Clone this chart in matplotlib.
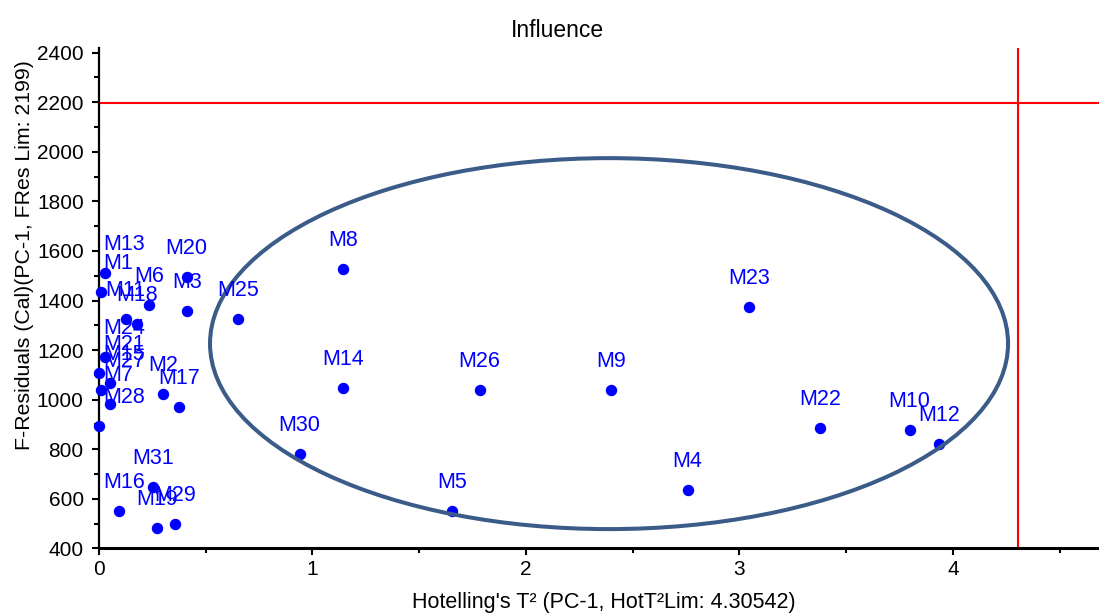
import matplotlib
matplotlib.use("Agg")
import matplotlib.pyplot as plt
from matplotlib.patches import Ellipse
from matplotlib.ticker import MultipleLocator

plt.rcParams['font.family'] = ['Liberation Sans', 'DejaVu Sans']

# sample names, Hotelling T2 and F-residuals
names = ['M13', 'M1', 'M11', 'M18', 'M6', 'M3', 'M20', 'M25',
         'M24', 'M21', 'M15', 'M27', 'M7', 'M28', 'M2', 'M17',
         'M16', 'M31', 'M19', 'M29',
         'M8', 'M14', 'M26', 'M30', 'M5', 'M23', 'M9', 'M22', 'M10', 'M12', 'M4']
hot_t2 = [0.028, 0.009, 0.125, 0.179, 0.236, 0.411, 0.411, 0.652,
          0.028, 0.0, 0.052, 0.009, 0.052, 0.0, 0.301, 0.375,
          0.095, 0.252, 0.272, 0.356,
          1.144, 1.144, 1.783, 0.940, 1.653, 3.046, 2.397, 3.378, 3.797, 3.934, 2.757]
f_res = [1512, 1435, 1325, 1305, 1382, 1359, 1496, 1324,
         1172, 1109, 1067, 1039, 981, 894, 1023, 971,
         551, 647, 482, 498,
         1528, 1048, 1039, 782, 552, 1374, 1039, 884, 876, 820, 635]

hot_lim = 4.30542
fres_lim = 2199

# hand-drawn ellipse around the outlying group
ell_center = (2.389, 1226)
ell_width = 3.738
ell_height = 1497

fig = plt.figure(figsize=(10.99, 6.14), dpi=100)
ax = fig.add_axes([99/1099, 1-548.3/614, 1000/1099, 500.3/614])

ax.scatter(hot_t2, f_res, s=52, color='#0000ff', zorder=3, clip_on=False)

ax.axhline(fres_lim, color='#ff0000', lw=1.5, zorder=2)
ax.axvline(hot_lim, color='#ff0000', lw=1.5, zorder=2)

ax.add_patch(Ellipse(ell_center, ell_width, ell_height, fill=False,
                     edgecolor='#3b5b88', lw=2.9, zorder=4))

anns = []
for n, x, y in zip(names, hot_t2, f_res):
    a = ax.annotate(n, (x, y), xytext=(0, 28.5), textcoords='offset pixels',
                    ha='center', va='center', fontsize=15.5, color='#0000ff',
                    zorder=5, annotation_clip=False)
    anns.append(a)

ax.set_xlim(0, 4.684)
ax.set_ylim(400, 2419)
ax.xaxis.set_major_locator(MultipleLocator(1))
ax.xaxis.set_minor_locator(MultipleLocator(0.5))
ax.yaxis.set_major_locator(MultipleLocator(200))
ax.yaxis.set_minor_locator(MultipleLocator(100))
ax.tick_params(which='major', length=5, width=1.5, labelsize=15, direction='out')
ax.tick_params(which='minor', length=3.5, width=1.5, direction='out')
ax.tick_params(axis='y', pad=6)

for s in ['top', 'right']:
    ax.spines[s].set_visible(False)
ax.spines['left'].set_linewidth(1.6)
ax.spines['bottom'].set_linewidth(2.2)

ax.set_title('Influence', fontsize=16.5, x=0.458, y=1.0, pad=8)
ax.set_xlabel("Hotelling's T² (PC-1, HotT²Lim: 4.30542)", fontsize=15.5)
ax.set_ylabel('F-Residuals (Cal)(PC-1, FRes Lim: 2199)', fontsize=15.3)
ax.xaxis.set_label_coords(0.505, -0.087)
ax.yaxis.set_label_coords(-0.065, 0.586)

# keep labels inside the plot area, like the original software does
fig.canvas.draw()
r = fig.canvas.get_renderer()
left = ax.get_window_extent().x0 + 4
for a in anns:
    bb = a.get_window_extent(r)
    if bb.x0 < left:
        dx, dy = a.xyann
        a.xyann = (dx + left - bb.x0, dy)

fig.savefig('out.png', dpi=100)
